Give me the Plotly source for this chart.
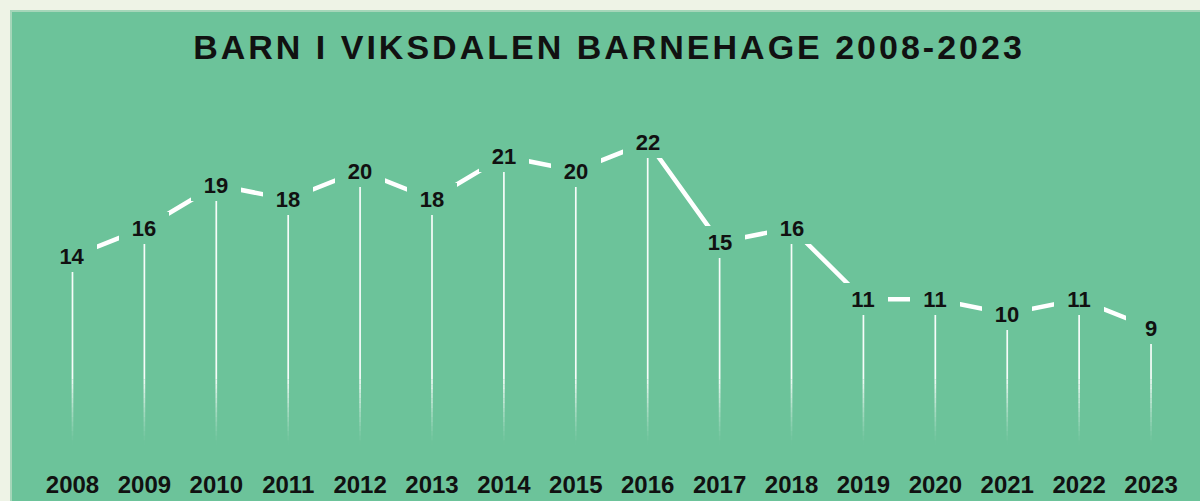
import plotly.graph_objects as go

# ---- data ----
years = [2008, 2009, 2010, 2011, 2012, 2013, 2014, 2015,
         2016, 2017, 2018, 2019, 2020, 2021, 2022, 2023]
children = [14, 16, 19, 18, 20, 18, 21, 20, 22, 15, 16, 11, 11, 10, 11, 9]
title_text = "BARN I VIKSDALEN BARNEHAGE 2008-2023"

# ---- style ----
GREEN = "rgb(108,195,154)"
CREAM = "rgb(238,243,230)"
INK = "#111111"
FONT = "Liberation Sans, Arial, Helvetica, sans-serif"

W, H = 1200, 501
M_T, M_B = 100, 56
Y_RANGE = [0.818, 24.94]
X_RANGE = [years[0] - 1.008, years[0] + 15.681]
plot_h = H - M_T - M_B

fig = go.Figure()

# drop lines (solid part)
fade_top = 5.4
dx, dy = [], []
for x, v in zip(years, children):
    dx += [x, x, None]
    dy += [v, fade_top, None]
fig.add_trace(go.Scatter(x=dx, y=dy, mode="lines", hoverinfo="skip",
                         line=dict(color="rgba(255,255,255,0.95)", width=1.7),
                         showlegend=False))
# drop lines (fading part)
n_steps = 14
step = (fade_top - Y_RANGE[0]) / n_steps
for k in range(n_steps):
    top = fade_top - k * step
    bot = top - step * 1.02
    alpha = 0.9 * (1 - (k + 0.5) / n_steps) ** 1.3
    fx, fy = [], []
    for x in years:
        fx += [x, x, None]
        fy += [top, bot, None]
    fig.add_trace(go.Scatter(x=fx, y=fy, mode="lines", hoverinfo="skip",
                             line=dict(color=f"rgba(255,255,255,{alpha:.3f})", width=1.7),
                             showlegend=False))

# connecting line
fig.add_trace(go.Scatter(x=years, y=children, mode="lines", hoverinfo="skip",
                         line=dict(color="white", width=4.5), showlegend=False))

# value labels with green box hiding the line
for x, v in zip(years, children):
    fig.add_annotation(x=x, y=v, xref="x", yref="y", text=str(v), showarrow=False,
                       font=dict(family=FONT, size=22, color=INK, weight="bold"),
                       bgcolor=GREEN, borderwidth=0, borderpad=2, width=46, height=28,
                       xanchor="center", yanchor="middle")

# green panel
fig.add_shape(type="rect", xref="paper", yref="paper", layer="below",
              x0=11 / W, x1=1.05, y0=-0.3, y1=(H - M_B - 11) / plot_h,
              fillcolor=GREEN, line=dict(color="rgb(165,214,185)", width=2))

fig.update_layout(
    width=W, height=H,
    margin=dict(l=0, r=0, t=M_T, b=M_B, pad=0),
    paper_bgcolor=CREAM, plot_bgcolor="rgba(0,0,0,0)",
    title=dict(text=f'<span style="letter-spacing:3px">{title_text}</span>',
               x=609 / W, xanchor="center", xref="container",
               y=1 - 47.5 / H, yanchor="middle", yref="container",
               font=dict(family=FONT, size=34, color=INK, weight="bold")),
    xaxis=dict(range=X_RANGE, tickmode="array", tickvals=years,
               ticktext=[str(y) for y in years],
               showgrid=False, zeroline=False, showline=False,
               ticks="outside", ticklen=18, tickcolor="rgba(0,0,0,0)",
               tickfont=dict(family=FONT, size=24, color=INK, weight="bold"),
               fixedrange=True),
    yaxis=dict(range=Y_RANGE, visible=False, showgrid=False, zeroline=False,
               fixedrange=True),
    showlegend=False,
)

fig.write_html(
    "out.html",
    config={"displayModeBar": False},
    post_script="document.body.style.margin='0';"
                "document.body.style.background='" + CREAM + "';"
                "document.body.style.overflow='hidden';",
)
